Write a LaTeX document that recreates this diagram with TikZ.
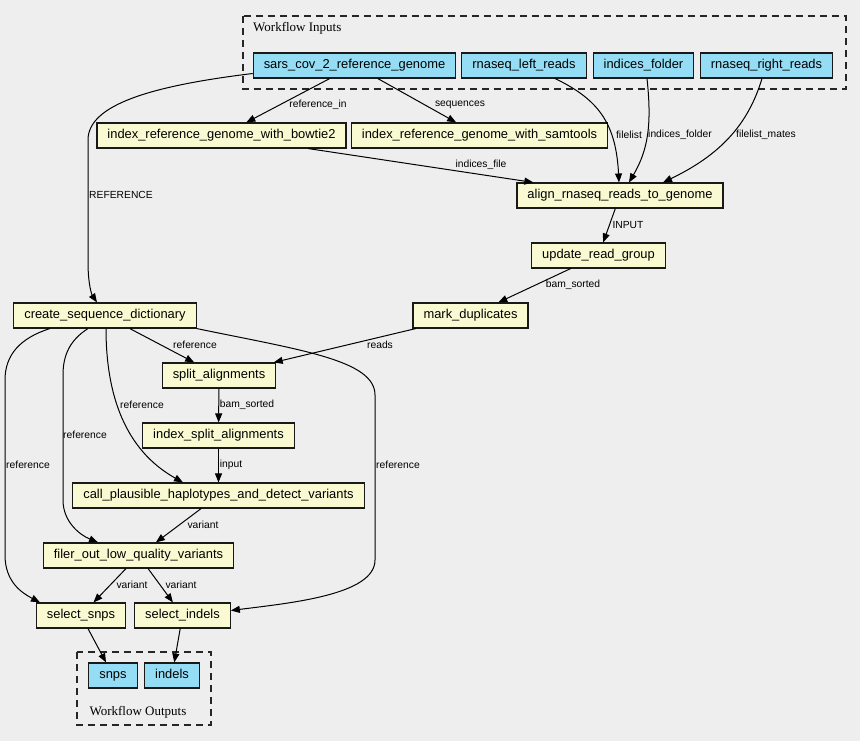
\documentclass[tikz,border=0pt]{standalone}
\usepackage{fontspec}
\setmainfont{Liberation Sans}
\newfontfamily\clusterfont{Liberation Serif}
\usetikzlibrary{arrows.meta}
\definecolor{bgcol}{HTML}{EEEEEE}
\definecolor{incol}{HTML}{94DDF4}
\definecolor{stepcol}{HTML}{FAFAD2}

\begin{document}
\begin{tikzpicture}[x=1pt,y=-1pt,
    box/.style={draw=black!90,line width=1.1pt,minimum height=25pt,inner xsep=10.5pt,inner ysep=0pt,
      text height=9.5pt,text depth=2.8pt,font=\fontsize{12.9}{15}\selectfont},
    inbox/.style={box,fill=incol},
    stepbox/.style={box,fill=stepcol},
    lbl/.style={font=\fontsize{10.3}{12}\selectfont,inner sep=0pt},
    edge/.style={line width=1pt,-{Triangle[length=9pt,width=7pt]}},
    cluster/.style={draw=black!85,line width=1.1pt,dash pattern=on 7pt off 5pt},
    ctitle/.style={font=\clusterfont\fontsize{13}{15}\selectfont,inner sep=0pt}]
  \useasboundingbox[fill=bgcol] (0,0) rectangle (860,741);

  \draw[cluster] (243,16) rectangle (846,89);
  \node[ctitle,anchor=west] (intitle) at (253,28) {Workflow Inputs};
  \draw[cluster] (77,652) rectangle (211,725);
  \node[ctitle] (outtitle) at (138,712) {Workflow Outputs};

  \node[inbox] (sars) at (354.5,65.5) {sars\_cov\_2\_reference\_genome};
  \node[inbox] (lreads) at (524,65.5) {rnaseq\_left\_reads};
  \node[inbox] (ifolder) at (643.5,65.5) {indices\_folder};
  \node[inbox] (rreads) at (766.5,65.5) {rnaseq\_right\_reads};
  \node[stepbox] (bowtie) at (221.5,135.5) {index\_reference\_genome\_with\_bowtie2};
  \node[stepbox] (samtools) at (479.5,135.5) {index\_reference\_genome\_with\_samtools};
  \node[stepbox] (align) at (620,195.5) {align\_rnaseq\_reads\_to\_genome};
  \node[stepbox] (update) at (598.5,255.5) {update\_read\_group};
  \node[stepbox] (mark) at (470.5,315.5) {mark\_duplicates};
  \node[stepbox] (csd) at (105,315.5) {create\_sequence\_dictionary};
  \node[stepbox] (split) at (219,375.5) {split\_alignments};
  \node[stepbox] (isplit) at (218.5,435.5) {index\_split\_alignments};
  \node[stepbox] (call) at (218.5,495.5) {call\_plausible\_haplotypes\_and\_detect\_variants};
  \node[stepbox] (filer) at (138.5,555.5) {filer\_out\_low\_quality\_variants};
  \node[stepbox] (ssnps) at (81,615.5) {select\_snps};
  \node[stepbox] (sindels) at (182.5,615.5) {select\_indels};
  \node[inbox] (snps) at (113,675.5) {snps};
  \node[inbox] (indels) at (172,675.5) {indels};

  \draw[edge] (sars) -- (bowtie) node[lbl] (l1) at (318,105) {reference\_in};
  \draw[edge] (sars) -- (samtools) node[lbl] (l2) at (460,105) {sequences};
  \draw[edge] ([yshift=-8pt]sars.west) .. controls (150,86) and (88,105) .. (88,140) -- (88,262)
    .. controls (88,285) and (92,295) .. ([xshift=-8pt]csd.north) node[lbl] (l3) at (121,195) {REFERENCE};
  \draw[edge] ([xshift=31pt]lreads.south) .. controls (600,100) and (616,125) .. ([xshift=-1pt]align.north)
    node[lbl] (l4) at (629,135) {filelist};
  \draw[edge] ([xshift=3.5pt]ifolder.south) .. controls (652,125) and (648,150) .. ([xshift=9pt]align.north)
    node[lbl] (l5) at (680,135) {indices\_folder};
  \draw[edge] ([xshift=-4.5pt]rreads.south) .. controls (748,125) and (720,155) .. ([xshift=43pt]align.north)
    node[lbl] (l6) at (766,135) {filelist\_mates};
  \draw[edge] (bowtie) -- (align) node[lbl] (l7) at (481,165) {indices\_file};
  \draw[edge] (align) -- (update) node[lbl] (l8) at (628,225) {INPUT};
  \draw[edge] (update) -- (mark) node[lbl] (l9) at (573,285) {bam\_sorted};
  \draw[edge] (mark) -- (split) node[lbl] (l10) at (380,345) {reads};
  \draw[edge] (csd) -- (split) node[lbl] (l11) at (195,345) {reference};
  \draw[edge] ([xshift=1pt]csd.south) .. controls (106,395) and (125,450) .. ([xshift=-35.5pt]call.north)
    node[lbl] (l12) at (142,405) {reference};
  \draw[edge] (split) -- (isplit) node[lbl] (l13) at (247,405) {bam\_sorted};
  \draw[edge] ([xshift=-17pt]csd.south) .. controls (70,340) and (63,355) .. (63,375) -- (63,500)
    .. controls (63,522) and (80,535) .. ([xshift=-40.5pt]filer.north) node[lbl] (l14) at (85,435) {reference};
  \draw[edge] ([xshift=-55pt]csd.south) .. controls (20,338) and (5,355) .. (5,380) -- (5,555)
    .. controls (5,582) and (22,593) .. ([xshift=-41pt]ssnps.north) node[lbl] (l15) at (28,465) {reference};
  \draw[edge] (csd.south east) .. controls (300,350) and (375,360) .. (375,395) -- (375,560)
    .. controls (375,595) and (290,603) .. ([yshift=5pt]sindels.east) node[lbl] (l16) at (398,465) {reference};
  \draw[edge] (isplit) -- (call) node[lbl] (l17) at (231,465) {input};
  \draw[edge] (call) -- (filer) node[lbl] (l18) at (203,525) {variant};
  \draw[edge] (filer) -- (ssnps) node[lbl] (l19) at (132,585) {variant};
  \draw[edge] (filer) -- (sindels) node[lbl] (l20) at (181,585) {variant};
  \draw[edge] (ssnps) -- (snps);
  \draw[edge] (sindels) -- (indels);
\end{tikzpicture}
\end{document}
